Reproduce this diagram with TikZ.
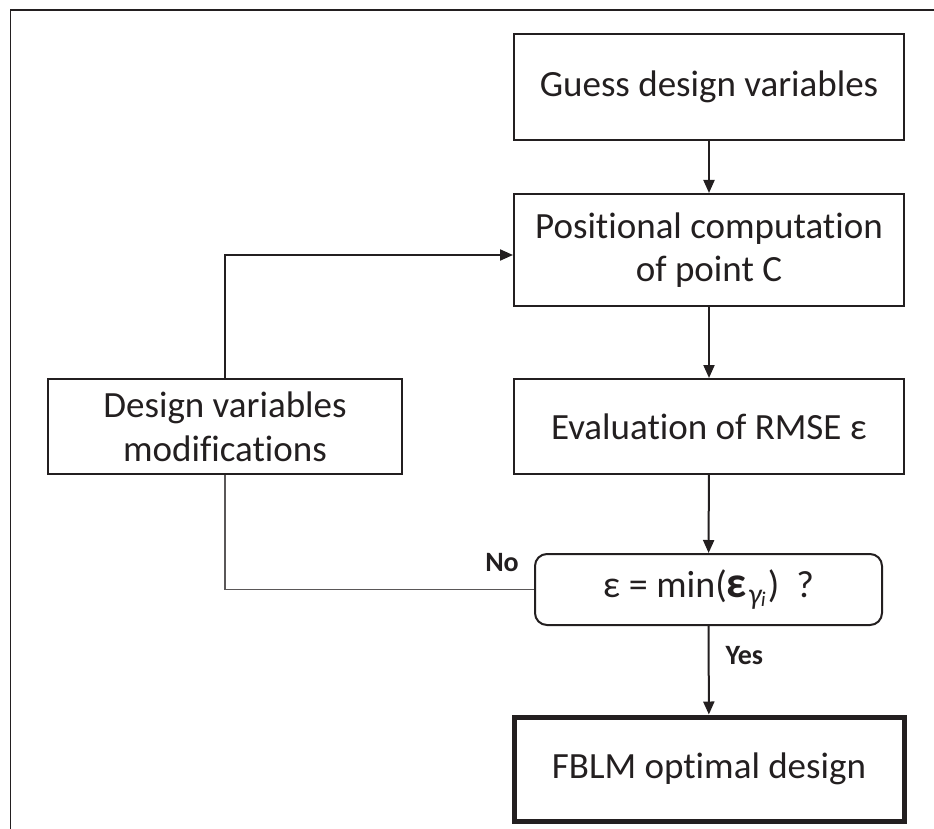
\documentclass[tikz,border=0pt]{standalone}
\usepackage{fontspec}
\setmainfont[Ligatures=NoCommon]{Carlito}
\usetikzlibrary{arrows.meta}
\definecolor{ink}{RGB}{35,31,32}
\tikzset{
  box/.style={draw=ink, line width=2pt, rectangle, minimum width=390pt, align=center, font=\fontsize{37}{43}\selectfont, text=ink},
  sidebox/.style={draw=ink, line width=2pt, rectangle, minimum width=354pt, minimum height=95pt, align=center, font=\fontsize{37}{44}\selectfont, text=ink},
  decision/.style={draw=ink, line width=2pt, rectangle, rounded corners=12pt, minimum width=347pt, minimum height=71pt, font=\fontsize{38}{42}\selectfont, text=ink},
  finalbox/.style={draw=ink, line width=5pt, rectangle, minimum width=390pt, minimum height=104pt, font=\fontsize{37}{43}\selectfont, text=ink},
  flow/.style={draw=ink, line width=2pt, -{Triangle[length=13pt,width=11pt]}},
  thinline/.style={draw=ink!75, line width=1.3pt},
  lbl/.style={font=\bfseries\fontsize{28}{30}\selectfont, text=ink}
}
\begin{document}
\begin{tikzpicture}[x=1pt,y=-1pt]
\useasboundingbox (0,0) rectangle (934,829);
\draw[ink, line width=1.5pt] (10.7,829) -- (10.7,10) -- (934,10);
\node[box, minimum height=106pt] (guess) at (709,87) {Guess design variables};
\node[box, minimum height=112pt] (pos) at (709,250) {Positional computation\\of point C};
\node[box, minimum height=95pt] (eval) at (709,426.5) {Evaluation of RMSE ε};
\node[sidebox] (mod) at (225,426.5) {Design variables\\modifications};
\node[decision] (dec) at (708.5,589.5) {ε = min(\textbf{\fontsize{44}{44}\selectfont ε}\kern1pt\raisebox{-7pt}{\itshape\fontsize{30}{30}\selectfont γ\kern-0.5pt\raisebox{-2pt}{\fontsize{21}{21}\selectfont i}}\kern2pt)\ \ ?};
\node[finalbox] (fin) at (709,769) {FBLM optimal design};
\draw[flow] (guess) -- (pos);
\draw[flow] (pos) -- (eval);
\draw[flow] (eval) -- (dec);
\draw[flow] (dec) -- (fin);
\node[lbl, anchor=west] (yes) at (722,656) {Yes};
\draw[thinline] (mod.south) |- (dec.west);
\draw[flow] (mod.north) |- (pos.west |- 0,255);
\node[lbl] (no) at (502,563) {No};
\end{tikzpicture}
\end{document}
